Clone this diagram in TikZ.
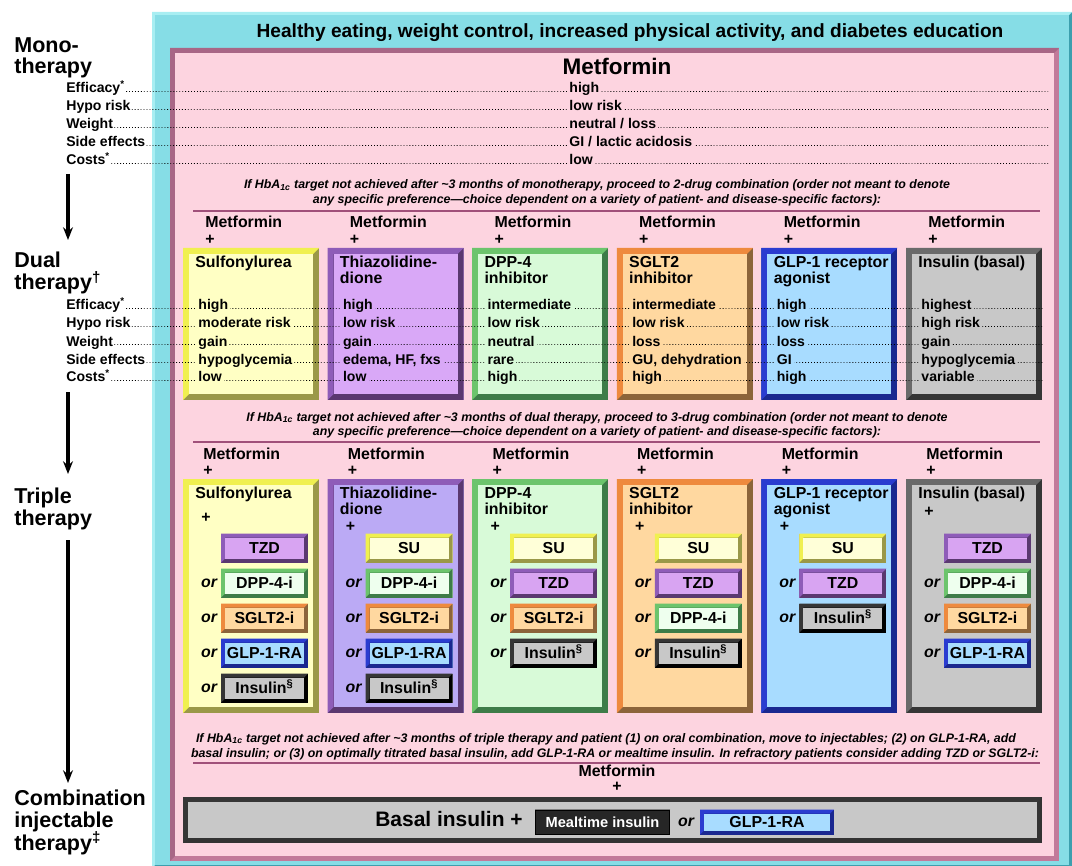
\documentclass[tikz,border=0pt]{standalone}
\usepackage{fontspec}
\setmainfont{Liberation Sans}
\usepackage{xcolor}
\usetikzlibrary{
	arrows.meta,
	calc,
	positioning
}
\newlength{\px}
\setlength{\px}{0.025cm}

\definecolor{cyanFill}{HTML}{86DDE6}
\definecolor{cyanLight}{HTML}{A8EEF2}
\definecolor{cyanDark}{HTML}{3C9FAE}
\definecolor{pinkFill}{HTML}{FDD4E0}
\definecolor{pinkLight}{HTML}{A86686}
\definecolor{pinkDark}{HTML}{C27A9A}
\definecolor{ruleC}{HTML}{A0507A}
\definecolor{suFill}{HTML}{FFFFC4}
\definecolor{suSub}{HTML}{FFFFD8}
\definecolor{suLight}{HTML}{F0F050}
\definecolor{suDark}{HTML}{9A9848}
\definecolor{tzdFill}{HTML}{D9A8F7}
\definecolor{tzdFillB}{HTML}{BBAAF5}
\definecolor{tzdSub}{HTML}{D8A4F2}
\definecolor{tzdLight}{HTML}{8E5CB8}
\definecolor{tzdDark}{HTML}{5A3870}
\definecolor{dppFill}{HTML}{D8FAD8}
\definecolor{dppSub}{HTML}{EEFFEE}
\definecolor{dppLight}{HTML}{6CC46C}
\definecolor{dppDark}{HTML}{3E7C48}
\definecolor{sgltFill}{HTML}{FFD8A0}
\definecolor{sgltLight}{HTML}{EE8A3E}
\definecolor{sgltDark}{HTML}{8C643A}
\definecolor{glpFill}{HTML}{A8DCFF}
\definecolor{glpLight}{HTML}{2A3CD0}
\definecolor{glpDark}{HTML}{1A2890}
\definecolor{insFill}{HTML}{C8C8C8}
\definecolor{insLight}{HTML}{6A6A6A}
\definecolor{insDark}{HTML}{363636}
\definecolor{mealFill}{HTML}{262626}

\newcommand{\fsz}[1]{\fontsize{#1}{#1}\selectfont\bfseries}
\newcommand{\sym}[1]{\smash{\textsuperscript{#1}}}

\tikzset{every path/.append style={line width=0.5pt}}
\tikzset{
	% fill, top/left edge, bottom/right edge, edge width
	bevel/.style n args={4}{fill=#1,inner sep=0pt,outer sep=0pt,path picture={
		\coordinate (bnw) at (path picture bounding box.north west);
		\coordinate (bne) at (path picture bounding box.north east);
		\coordinate (bsw) at (path picture bounding box.south west);
		\coordinate (bse) at (path picture bounding box.south east);
		\fill[#3] (bnw) rectangle (bse);
		\fill[#2] (bsw) -- (bnw) -- (bne) -- ([shift={(-#4,-#4)}]bne) -- ([shift={(#4,-#4)}]bnw) -- ([shift={(#4,#4)}]bsw) -- cycle;
		\fill[#1] ([shift={(#4,-#4)}]bnw) rectangle ([shift={(-#4,#4)}]bse);
	}},
	boxSU/.style={bevel={suFill}{suLight}{suDark}{6\px}},
	boxTZD/.style={bevel={tzdFill}{tzdLight}{tzdDark}{6\px}},
	boxTZDb/.style={bevel={tzdFillB}{tzdLight}{tzdDark}{6\px}},
	boxDPP/.style={bevel={dppFill}{dppLight}{dppDark}{6\px}},
	boxSGLT/.style={bevel={sgltFill}{sgltLight}{sgltDark}{6\px}},
	boxGLP/.style={bevel={glpFill}{glpLight}{glpDark}{6\px}},
	boxINS/.style={bevel={insFill}{insLight}{insDark}{6\px}},
	sub/.style={minimum width=87\px,minimum height=29\px,font=\fsz{11.3},text height=0.72em,text depth=0pt},
	sSU/.style={sub,bevel={suSub}{suLight}{suDark}{4\px}},
	sTZD/.style={sub,bevel={tzdSub}{tzdLight}{tzdDark}{4\px}},
	sDPP/.style={sub,bevel={dppSub}{dppLight}{dppDark}{4\px}},
	sSGLT/.style={sub,bevel={sgltFill}{sgltLight}{sgltDark}{4\px}},
	sGLP/.style={sub,bevel={glpFill}{glpLight}{glpDark}{4\px}},
	sINS/.style={sub,bevel={insFill}{insDark}{black}{4\px}},
	phase/.style={font=\fsz{15.3},anchor=base west,inner sep=0pt},
	lab/.style={font=\fsz{10},anchor=base west,inner sep=0pt},
	val/.style={lab,fill=#1,inner xsep=1.5pt},
	metf/.style={font=\fsz{11.3},anchor=base west,inner sep=0pt},
	ttl/.style={font=\fsz{11.3},anchor=base west,inner sep=0pt},
	note/.style={font=\fsz{8.8}\itshape,anchor=base,inner sep=0pt},
	orx/.style={font=\fsz{11.3}\itshape,inner sep=0pt},
	plus/.style={font=\fsz{11.3},inner sep=0pt},
	leader/.style={line width=0.6pt,dash pattern=on 0.6pt off 1.5pt},
	rule/.style={draw=ruleC,line width=1.6pt},
	phasearrow/.style={line width=2.2pt,-{Stealth[length=9pt,width=7pt]}}
}

% name/box/fill/title/title line 2/efficacy/hypo/weight/side effects/costs
\newcommand{\dualdata}{%
	su/boxSU/suFill/Sulfonylurea//high/moderate risk/gain/hypoglycemia/low,
	tzd/boxTZD/tzdFill/Thiazolidine-/dione/high/low risk/gain/{edema, HF, fxs}/low,
	dpp/boxDPP/dppFill/DPP-4/inhibitor/intermediate/low risk/neutral/rare/high,
	sglt/boxSGLT/sgltFill/SGLT2/inhibitor/intermediate/low risk/loss/{GU, dehydration}/high,
	glp/boxGLP/glpFill/GLP-1 receptor/agonist/high/low risk/loss/GI/high,
	ins/boxINS/insFill/Insulin (basal)//highest/high risk/gain/hypoglycemia/variable}

% name/box/title/title line 2/plus offset/third drugs
\newcommand{\tripledata}{%
	su/boxSU/Sulfonylurea//39/{sTZD/TZD,sDPP/DPP-4-i,sSGLT/SGLT2-i,sGLP/GLP-1-RA,sINS/Insulin\textsuperscript{\S}},
	tzd/boxTZDb/Thiazolidine-/dione/48/{sSU/SU,sDPP/DPP-4-i,sSGLT/SGLT2-i,sGLP/GLP-1-RA,sINS/Insulin\textsuperscript{\S}},
	dpp/boxDPP/DPP-4/inhibitor/48/{sSU/SU,sTZD/TZD,sSGLT/SGLT2-i,sINS/Insulin\textsuperscript{\S}},
	sglt/boxSGLT/SGLT2/inhibitor/48/{sSU/SU,sTZD/TZD,sDPP/DPP-4-i,sINS/Insulin\textsuperscript{\S}},
	glp/boxGLP/GLP-1 receptor/agonist/48/{sSU/SU,sTZD/TZD,sINS/Insulin\textsuperscript{\S}},
	ins/boxINS/Insulin (basal)//33/{sTZD/TZD,sDPP/DPP-4-i,sSGLT/SGLT2-i,sGLP/GLP-1-RA}}

\begin{document}
\begin{tikzpicture}[x=1\px,y=-1\px]
	\useasboundingbox (0,0) rectangle (1072,866);

	% frames
	\node[bevel={cyanFill}{cyanLight}{cyanDark}{3\px},anchor=north west,minimum width=920\px,minimum height=856\px] (frame) at (152,12) {};
	\node[bevel={pinkFill}{pinkLight}{pinkDark}{5\px},anchor=north west,minimum width=889\px,minimum height=813\px] (panel) at (170,48) {};
	\node[font=\fsz{13.6},anchor=base,inner sep=0pt] (goal) at (630,38) {Healthy eating, weight control, increased physical activity, and diabetes education};

	% phase labels
	\node[phase] (mono1) at (14,53) {Mono-};
	\node[phase] (mono2) at (14,74) {therapy};
	\node[phase] (dual1) at (14,268) {Dual};
	\node[phase] (dual2) at (14,290) {therapy\sym{\dag}};
	\node[phase] (trip1) at (14,503) {Triple};
	\node[phase] (trip2) at (14,525) {therapy};
	\node[phase] (comb1) at (14,805) {Combination};
	\node[phase] (comb2) at (14,827) {injectable};
	\node[phase] (comb3) at (14,850) {therapy\sym{\ddag}};

	\coordinate (a1s) at (68,174);
	\coordinate (a1e) at (68,240);
	\coordinate (a2s) at (68,392);
	\coordinate (a2e) at (68,474);
	\coordinate (a3s) at (68,540);
	\coordinate (a3e) at (68,783);
	\draw[phasearrow] (a1s) -- (a1e);
	\draw[phasearrow] (a2s) -- (a2e);
	\draw[phasearrow] (a3s) -- (a3e);

	% monotherapy
	\node[font=\fsz{16},anchor=base,inner sep=0pt] (mmet) at (617,75) {Metformin};
	\foreach \nm/\tx/\vx [count=\r from 0] in {eff/Efficacy\sym{*}/high,hypo/Hypo risk/low risk,wt/Weight/{neutral / loss},side/Side effects/{GI / lactic acidosis},cost/Costs\sym{*}/low}{
		\node[lab] (m-\nm) at (66,93+18*\r) {\tx};
		\coordinate (m-\nm-end) at (1048,91.5+18*\r);
		\draw[leader] (m-\nm.base east) ++(1,-1.5) -- (m-\nm-end);
		\node[val=pinkFill] (m-\nm-v) at (567,93+18*\r) {\vx};
	}

	\node[note] (n1a) at (597,189) {If HbA\textsubscript{1c} target not achieved after \textasciitilde3 months of monotherapy, proceed to 2-drug combination (order not meant to denote};
	\node[note] (n1b) at (597,204) {any specific preference---choice dependent on a variety of patient- and disease-specific factors):};
	\draw[rule] (193,211) -- (1040,211);

	% dual therapy
	\foreach \n/\bs/\fc/\ta/\tb/\va/\vb/\vc/\vd/\ve [count=\i from 1] in \dualdata {
		\pgfmathsetmacro\bx{183+144.6*(\i-1)}
		\node[\bs,anchor=north west,minimum width=136\px,minimum height=152\px] (d\i) at (\bx,248) {};
		\node[metf] (d\i-m) at ($(d\i.north west)+(22,-20)$) {Metformin};
		\node[metf] (d\i-p) at ($(d\i.north west)+(22,-3)$) {+};
		\node[ttl] (d\i-t1) at ($(d\i.north west)+(12,20)$) {\ta};
		\node[ttl] (d\i-t2) at ($(d\i.north west)+(12,36)$) {\tb};
	}
	\foreach \nm/\tx [count=\r from 0] in {eff/Efficacy\sym{*},hypo/Hypo risk,wt/Weight,side/Side effects,cost/Costs\sym{*}}{
		\node[lab] (d-\nm) at (66,310+18*\r) {\tx};
		\coordinate (d-\nm-end) at (1043,308.5+18*\r);
		\draw[leader] (d-\nm.base east) ++(1,-1.5) -- (d-\nm-end);
	}
	\foreach \n/\bs/\fc/\ta/\tb/\va/\vb/\vc/\vd/\ve [count=\i from 1] in \dualdata {
		\node[val=\fc] (d\i-v1) at ($(d\i.north west)+(13,62)$) {\va};
		\node[val=\fc] (d\i-v2) at ($(d\i.north west)+(13,80)$) {\vb};
		\node[val=\fc] (d\i-v3) at ($(d\i.north west)+(13,98)$) {\vc};
		\node[val=\fc] (d\i-v4) at ($(d\i.north west)+(13,116)$) {\vd};
		\node[val=\fc] (d\i-v5) at ($(d\i.north west)+(13,134)$) {\ve};
	}

	\node[note] (n2a) at (597,421) {If HbA\textsubscript{1c} target not achieved after \textasciitilde3 months of dual therapy, proceed to 3-drug combination (order not meant to denote};
	\node[note] (n2b) at (597,435) {any specific preference---choice dependent on a variety of patient- and disease-specific factors):};
	\draw[rule] (193,442) -- (1040,442);

	% triple therapy
	\foreach \n/\bs/\ta/\tb/\py/\lst [count=\i from 1] in \tripledata {
		\pgfmathsetmacro\bx{183+144.6*(\i-1)}
		\node[\bs,anchor=north west,minimum width=136\px,minimum height=234\px] (t\i) at (\bx,479) {};
		\node[metf] (t\i-m) at ($(t\i.north west)+(20,-20)$) {Metformin};
		\node[metf] (t\i-p) at ($(t\i.north west)+(20,-4)$) {+};
		\node[ttl] (t\i-t1) at ($(t\i.north west)+(12,19)$) {\ta};
		\node[ttl] (t\i-t2) at ($(t\i.north west)+(12,35)$) {\tb};
		\node[plus] (t\i-q) at ($(t\i.north west)+(23,\py)$) {+};
		\foreach \ss/\st [count=\k from 0] in \lst {
			\node[\ss,anchor=west] (t\i-s\k) at ($(t\i.north west)+(38,69+35*\k)$) {\st};
			\ifnum\k>0 \node[orx] (t\i-o\k) at ($(t\i.north west)+(26,69+35*\k)$) {or};\fi
		}
	}

	\node[note] (n3a) at (606,742) {If HbA\textsubscript{1c} target not achieved after \textasciitilde3 months of triple therapy and patient (1) on oral combination, move to injectables; (2) on GLP-1-RA, add};
	\node[note] (n3b) at (615,757) {basal insulin; or (3) on optimally titrated basal insulin, add GLP-1-RA or mealtime insulin. In refractory patients consider adding TZD or SGLT2-i:};
	\draw[rule] (193,763) -- (1040,763);

	% combination injectable therapy
	\node[metf,anchor=base] (b-m) at (617,776) {Metformin};
	\node[plus] (b-p) at (617,787) {+};
	\node[bevel={insFill}{insDark}{black!80}{5\px},anchor=north west,minimum width=859\px,minimum height=46\px] (inj) at (183,797) {};
	\node[font=\fsz{14.9},anchor=base east,inner sep=0pt] (basal) at (523,826) {Basal insulin +};
	\node[bevel={mealFill}{black}{black}{1\px},font=\fsz{10.4},text=white,anchor=west,minimum width=135\px,minimum height=25\px] (meal) at (535,822) {Mealtime insulin};
	\node[orx] (b-or) at (686,822) {or};
	\node[sGLP,anchor=west,minimum width=134\px,minimum height=25\px] (b-glp) at (700,822) {GLP-1-RA};
\end{tikzpicture}
\end{document}
